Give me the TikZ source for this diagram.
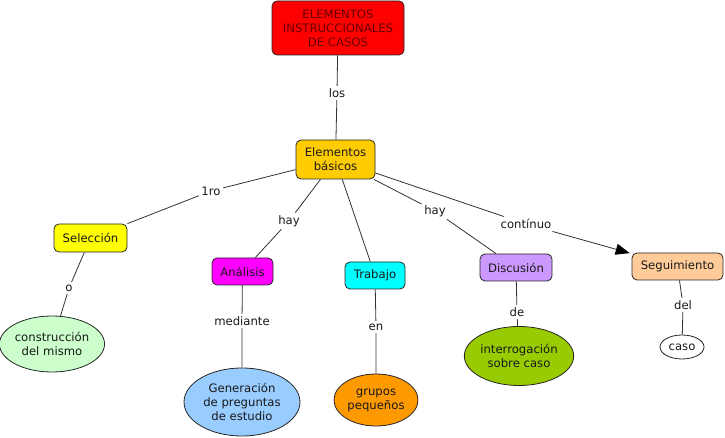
\documentclass[tikz,border=0pt]{standalone}
\usepackage{fontspec}
\setmainfont{DejaVu Sans}
\usetikzlibrary{arrows.meta,shapes.geometric}
\definecolor{cred}{HTML}{FF0000}
\definecolor{credtext}{HTML}{660000}
\definecolor{cgold}{HTML}{FFCC00}
\definecolor{cyel}{HTML}{FFFF00}
\definecolor{cmag}{HTML}{FF00FF}
\definecolor{ccyan}{HTML}{00FFFF}
\definecolor{clav}{HTML}{CC99FF}
\definecolor{cpeach}{HTML}{FFCC99}
\definecolor{cmint}{HTML}{CCFFCC}
\definecolor{csky}{HTML}{99CCFF}
\definecolor{corange}{HTML}{FF9900}
\definecolor{clime}{HTML}{99CC00}
\newcommand\myfs{\fontsize{11.7}{14}\selectfont}
\tikzset{
  concept/.style={draw=black!85, line width=0.8bp, rounded corners=5bp, inner sep=0pt,
    align=center, font=\myfs, text=black!90},
  oval/.style={ellipse, draw=black!85, line width=0.8bp, inner sep=0pt,
    align=center, font=\myfs, text=black!90},
  linklab/.style={font=\myfs, text=black!90, inner sep=2.5bp, align=center},
  conn/.style={draw=black!80, line width=0.8bp},
  arrowconn/.style={conn, -{Triangle[length=14bp,width=11bp,color=black]}, shorten >=2bp}
}
\begin{document}
\begin{tikzpicture}[x=1bp,y=-1bp]
\useasboundingbox (0,0) rectangle (725,438);
% concepts
\node[concept, fill=cred, text=credtext, minimum width=132bp, minimum height=54bp] (top) at (338,28)
  {ELEMENTOS\\INSTRUCCIONALES\\DE CASOS};
\node[concept, fill=cgold, minimum width=79bp, minimum height=39bp] (eb) at (335.5,159.5) {Elementos\\básicos};
\node[concept, fill=cyel, minimum width=73bp, minimum height=28bp] (sel) at (90.5,238) {Selección};
\node[concept, fill=cmag, minimum width=61bp, minimum height=27bp] (ana) at (242.5,271.5) {Análisis};
\node[concept, fill=ccyan, minimum width=60bp, minimum height=27bp] (trab) at (375,275.5) {Trabajo};
\node[concept, fill=clav, minimum width=72bp, minimum height=27bp] (disc) at (516,267.5) {Discusión};
\node[concept, fill=cpeach, minimum width=91bp, minimum height=27bp] (seg) at (677.5,266.5) {Seguimiento};
\node[oval, fill=cmint, minimum width=101bp, minimum height=56bp] (cons) at (52,344) {construcción\\del mismo};
\node[oval, fill=csky, minimum width=116bp, minimum height=68bp] (gen) at (242,402) {Generación\\de preguntas\\de estudio};
\node[oval, fill=corange, minimum width=84bp, minimum height=52bp] (grp) at (376,400) {grupos\\pequeños};
\node[oval, fill=clime, minimum width=106bp, minimum height=59bp] (int) at (519,356) {interrogación\\sobre caso};
\node[oval, fill=white, minimum width=44bp, minimum height=24bp] (caso) at (682,347) {caso};
% link labels
\node[linklab] (llos) at (337,93) {los};
\node[linklab] (l1ro) at (211,191) {1ro};
\node[linklab] (lhay1) at (289,221) {hay};
\node[linklab] (lhay2) at (435,211) {hay};
\node[linklab] (lcont) at (526,224) {contínuo};
\node[linklab] (lo) at (69,288) {o};
\node[linklab] (lmed) at (242,321) {mediante};
\node[linklab] (len) at (376,327) {en};
\node[linklab] (lde) at (517,312) {de};
\node[linklab] (ldel) at (683,305) {del};
% connectors
\draw[conn] (top) -- (llos) -- (eb);
\draw[conn] (eb) -- (l1ro) -- (sel);
\draw[conn] (eb) -- (lhay1) -- (ana);
\draw[conn] (eb) -- (trab);
\draw[conn] (eb) -- (lhay2) -- (disc);
\draw[conn] (eb) -- (lcont);
\draw[arrowconn] (lcont) -- (seg);
\draw[conn] (sel) -- (lo) -- (cons);
\draw[conn] (ana) -- (lmed) -- (gen);
\draw[conn] (trab) -- (len) -- (grp);
\draw[conn] (disc) -- (lde) -- (int);
\draw[conn] (seg) -- (ldel) -- (caso);
\end{tikzpicture}
\end{document}
